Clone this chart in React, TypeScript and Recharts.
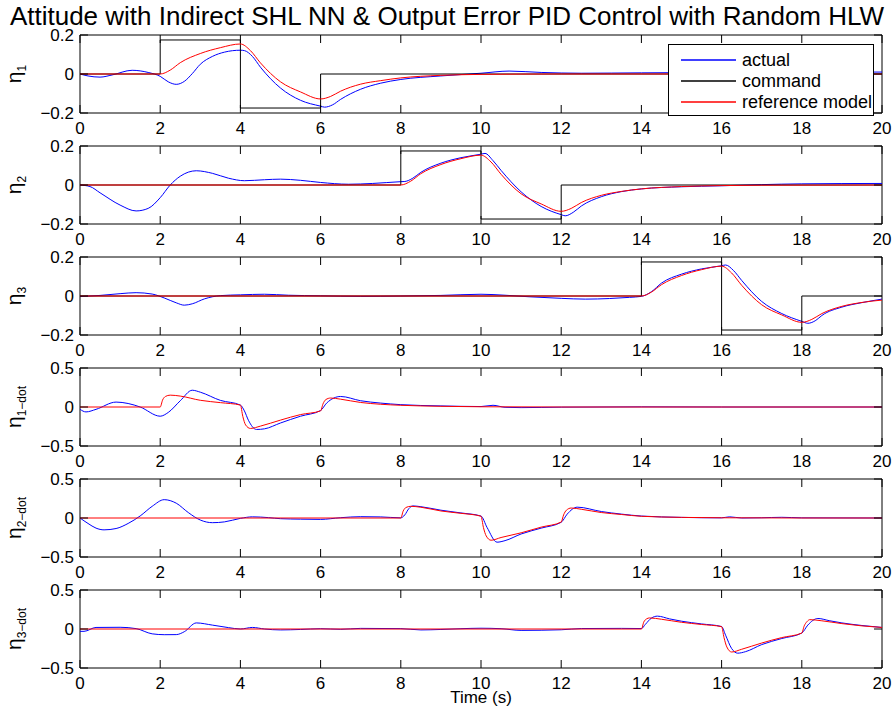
import { LineChart, Line, XAxis, YAxis, ReferenceArea } from "recharts";

type Pt = [number, number];

const timeTicks = [0, 2, 4, 6, 8, 10, 12, 14, 16, 18, 20];
const angleTicks = [-0.2, 0, 0.2];
const rateTicks = [-0.5, 0, 0.5];

// eta 1
const eta1Actual: Pt[] = [
  [0, 0], [0.2, -0.01], [0.5, -0.016], [0.8, -0.005], [1.3, 0.019], [1.7, 0.008], [2, -0.012],
  [2.2, -0.04], [2.4, -0.053], [2.6, -0.038], [2.8, 0.002], [3, 0.05], [3.3, 0.09], [3.6, 0.112],
  [4, 0.122], [4.1, 0.12], [4.3, 0.09], [4.5, 0.035], [5, -0.072], [5.5, -0.135], [6, -0.165],
  [6.1, -0.17], [6.3, -0.158], [6.5, -0.13], [7, -0.078], [7.5, -0.047], [8, -0.028], [9, -0.01],
  [10, 0.004], [10.7, 0.015], [11.5, 0.008], [12.5, 0.004], [14, 0.006], [16, 0.008], [18, 0.009], [20, 0.01],
];
const eta1Reference: Pt[] = [
  [0, 0], [2, 0], [2.25, 0.02], [2.5, 0.058], [3, 0.105], [3.5, 0.135], [4, 0.154], [4.25, 0.12],
  [4.5, 0.057], [5, -0.04], [5.5, -0.092], [6, -0.128], [6.25, -0.115], [6.5, -0.088], [7, -0.052],
  [7.5, -0.034], [8, -0.02], [9, -0.007], [10, -0.002], [12, 0], [20, 0],
];
const eta1Command: Pt[] = [
  [0, 0], [2, 0], [2, 0.1745], [4, 0.1745], [4, -0.1745], [6, -0.1745], [6, 0], [20, 0],
];

// eta 2
const eta2Actual: Pt[] = [
  [0, 0], [0.25, -0.008], [0.5, -0.04], [1, -0.103], [1.4, -0.133], [1.7, -0.12], [2, -0.065],
  [2.25, 0], [2.5, 0.045], [2.9, 0.073], [3.3, 0.06], [3.7, 0.035], [4.1, 0.022], [4.6, 0.027],
  [5, 0.03], [5.5, 0.024], [6, 0.013], [6.7, 0.004], [7.3, 0.008], [8, 0.017], [8.1, 0.018],
  [8.3, 0.035], [8.5, 0.065], [9, 0.112], [9.5, 0.14], [10, 0.158], [10.1, 0.162], [10.3, 0.125],
  [10.5, 0.075], [11, -0.035], [11.5, -0.11], [12, -0.152], [12.1, -0.158], [12.3, -0.14],
  [12.5, -0.108], [13, -0.06], [13.5, -0.034], [14, -0.02], [15, -0.009], [16, -0.004],
  [17, 0.002], [18, 0.006], [20, 0.008],
];
const eta2Reference: Pt[] = [
  [0, 0], [8, 0], [8.25, 0.02], [8.5, 0.058], [9, 0.105], [9.5, 0.135], [10, 0.153], [10.25, 0.118],
  [10.5, 0.055], [11, -0.045], [11.5, -0.097], [12, -0.135], [12.25, -0.12], [12.5, -0.09],
  [13, -0.053], [13.5, -0.033], [14, -0.02], [15, -0.008], [16, -0.003], [17, -0.001], [20, 0],
];
const eta2Command: Pt[] = [
  [0, 0], [8, 0], [8, 0.1745], [10, 0.1745], [10, -0.1745], [12, -0.1745], [12, 0], [20, 0],
];

// eta 3
const eta3Actual: Pt[] = [
  [0, -0.003], [0.5, 0.003], [1, 0.012], [1.4, 0.017], [1.8, 0.01], [2.1, -0.01], [2.4, -0.035],
  [2.6, -0.047], [2.8, -0.04], [3.1, -0.015], [3.5, 0.002], [4, 0.006], [4.6, 0.009], [5.2, 0.004],
  [6, 0.001], [7, -0.002], [8, 0], [9, 0.003], [10, 0.009], [10.6, 0.004], [11.2, -0.004],
  [12, -0.012], [12.6, -0.016], [13.2, -0.013], [13.7, -0.007], [14, -0.002], [14.25, 0.022],
  [14.5, 0.066], [15, 0.112], [15.5, 0.139], [16, 0.155], [16.1, 0.159], [16.3, 0.13], [16.5, 0.08],
  [17, -0.028], [17.5, -0.09], [18, -0.13], [18.15, -0.14], [18.35, -0.125], [18.5, -0.1],
  [19, -0.057], [19.5, -0.034], [20, -0.016],
];
const eta3Reference: Pt[] = [
  [0, 0], [14, 0], [14.25, 0.02], [14.5, 0.058], [15, 0.105], [15.5, 0.135], [16, 0.153],
  [16.25, 0.118], [16.5, 0.055], [17, -0.045], [17.5, -0.097], [18, -0.135], [18.25, -0.12],
  [18.5, -0.09], [19, -0.053], [19.5, -0.033], [20, -0.021],
];
const eta3Command: Pt[] = [
  [0, 0], [14, 0], [14, 0.1745], [16, 0.1745], [16, -0.1745], [18, -0.1745], [18, 0], [20, 0],
];

// eta 1 dot
const eta1DotActual: Pt[] = [
  [0, -0.03], [0.15, -0.063], [0.4, -0.03], [0.9, 0.063], [1.2, 0.045], [1.5, 0], [2, -0.118],
  [2.2, -0.07], [2.5, 0.08], [2.8, 0.215], [3, 0.19], [3.5, 0.085], [4, 0.025], [4.1, -0.05],
  [4.2, -0.17], [4.4, -0.288], [4.6, -0.28], [5, -0.205], [5.5, -0.118], [6, -0.045], [6.15, 0.05],
  [6.5, 0.135], [7, 0.08], [7.5, 0.05], [8, 0.03], [9, 0.014], [10, 0.006], [10.3, 0.022],
  [10.6, -0.004], [11, -0.008], [12, -0.002], [14, 0.002], [16, 0], [20, 0],
];
const eta1DotReference: Pt[] = [
  [0, 0], [2, 0], [2.06, 0.09], [2.13, 0.135], [2.25, 0.152], [2.5, 0.14], [3, 0.086], [3.5, 0.056],
  [4, 0.025], [4.06, -0.12], [4.13, -0.23], [4.25, -0.275], [4.5, -0.245], [5, -0.168], [5.5, -0.097],
  [6, -0.05], [6.06, 0.04], [6.13, 0.095], [6.25, 0.115], [6.5, 0.1], [7, 0.058], [7.5, 0.035],
  [8, 0.022], [9, 0.009], [10, 0.003], [12, 0], [20, 0],
];

// eta 2 dot
const eta2DotActual: Pt[] = [
  [0, 0], [0.2, -0.07], [0.4, -0.13], [0.6, -0.152], [0.9, -0.135], [1.2, -0.07], [1.5, 0.026],
  [1.8, 0.15], [2.1, 0.235], [2.4, 0.19], [2.7, 0.07], [3, -0.026], [3.3, -0.06], [3.6, -0.05],
  [4, -0.005], [4.3, 0.015], [4.7, 0.005], [5, -0.009], [5.5, -0.015], [6, -0.018], [6.5, 0.004],
  [7, 0.017], [7.5, 0.014], [8, 0.002], [8.1, 0.04], [8.2, 0.12], [8.3, 0.155], [8.5, 0.145],
  [9, 0.1], [9.5, 0.065], [10, 0.025], [10.15, -0.12], [10.4, -0.31], [10.6, -0.29], [11, -0.205],
  [11.5, -0.13], [12, -0.055], [12.15, 0.05], [12.4, 0.139], [13, 0.083], [13.5, 0.05], [14, 0.025],
  [15, 0.008], [16, 0.002], [16.2, 0.015], [16.5, 0], [17, 0.003], [17.5, 0.009], [18, 0.002], [20, 0],
];
const eta2DotReference: Pt[] = [
  [0, 0], [8, 0], [8.06, 0.09], [8.13, 0.135], [8.25, 0.15], [8.5, 0.138], [9, 0.09], [9.5, 0.06],
  [10, 0.023], [10.06, -0.12], [10.13, -0.23], [10.25, -0.285], [10.5, -0.25], [11, -0.19],
  [11.5, -0.117], [12, -0.052], [12.06, 0.04], [12.13, 0.1], [12.25, 0.128], [12.5, 0.112],
  [13, 0.07], [13.5, 0.045], [14, 0.022], [15, 0.008], [16, 0.003], [18, 0], [20, 0],
];

// eta 3 dot
const eta3DotActual: Pt[] = [
  [0, -0.03], [0.1, -0.03], [0.4, 0.02], [1, 0.022], [1.4, 0.005], [1.8, -0.062], [2.1, -0.073],
  [2.4, -0.072], [2.6, -0.035], [2.9, 0.078], [3.3, 0.05], [3.7, 0.018], [4, 0], [4.3, 0.02],
  [4.6, 0], [5, -0.012], [5.5, -0.006], [6, 0.004], [6.5, -0.004], [7, 0.008], [8, 0.005],
  [8.5, -0.012], [9, -0.006], [9.5, 0.004], [10, 0.01], [10.5, 0.004], [11, -0.018], [12, -0.01],
  [12.5, 0.006], [13.5, 0.008], [14, 0.006], [14.1, 0.06], [14.25, 0.14], [14.4, 0.165],
  [14.7, 0.13], [15, 0.1], [15.5, 0.065], [16, 0.032], [16.1, -0.08], [16.25, -0.25], [16.4, -0.31],
  [16.6, -0.29], [17, -0.2], [17.5, -0.122], [18, -0.052], [18.15, 0.05], [18.4, 0.135],
  [18.7, 0.105], [19, 0.078], [19.5, 0.045], [20, 0.02],
];
const eta3DotReference: Pt[] = [
  [0, 0], [14, 0], [14.06, 0.09], [14.13, 0.13], [14.2, 0.142], [14.5, 0.125], [15, 0.086],
  [15.5, 0.058], [16, 0.03], [16.06, -0.11], [16.13, -0.23], [16.25, -0.295], [16.5, -0.26],
  [17, -0.18], [17.5, -0.11], [18, -0.052], [18.06, 0.04], [18.13, 0.095], [18.2, 0.12],
  [18.5, 0.105], [19, 0.069], [19.5, 0.04], [20, 0.02],
];

const panels = [
  { sub: "1", actual: eta1Actual, reference: eta1Reference, command: eta1Command, ticks: angleTicks },
  { sub: "2", actual: eta2Actual, reference: eta2Reference, command: eta2Command, ticks: angleTicks },
  { sub: "3", actual: eta3Actual, reference: eta3Reference, command: eta3Command, ticks: angleTicks },
  { sub: "1\u2212dot", actual: eta1DotActual, reference: eta1DotReference, command: null, ticks: rateTicks },
  { sub: "2\u2212dot", actual: eta2DotActual, reference: eta2DotReference, command: null, ticks: rateTicks },
  { sub: "3\u2212dot", actual: eta3DotActual, reference: eta3DotReference, command: null, ticks: rateTicks },
];

const BLUE = "#0000ff";
const BLACK = "#000000";
const RED = "#ff0000";

const legendItems = [
  { name: "actual", color: BLUE },
  { name: "command", color: BLACK },
  { name: "reference model", color: RED },
];

const FONT = '"Liberation Sans", Arial, Helvetica, sans-serif';
const W = 894;
const PLOT_LEFT = 80;
const PLOT_W = 802;
const PLOT_H = 78;
const PAD_TOP = 12;
const X_AXIS_H = 28;
const plotTops = [35, 146, 257, 368, 479, 590];

const toPoints = (arr: Pt[]) => arr.map(([t, v]) => ({ t, v }));

function fmt(v: number) {
  if (v === 0) return "0";
  return (v < 0 ? "\u2212" : "") + Math.abs(v);
}

function XTick(props: any) {
  const { x, y, payload } = props;
  return (
    <g>
      <line x1={x} y1={y} x2={x} y2={y - 8} stroke="#000" strokeWidth={1} />
      <line x1={x} y1={y - PLOT_H} x2={x} y2={y - PLOT_H + 8} stroke="#000" strokeWidth={1} />
      <text x={x} y={y + 21} textAnchor="middle" fontSize={17} fontFamily={FONT} fill="#000">
        {payload.value}
      </text>
    </g>
  );
}

function YTick(props: any) {
  const { x, y, payload } = props;
  return (
    <g>
      <line x1={x} y1={y} x2={x + 8} y2={y} stroke="#000" strokeWidth={1} />
      <line x1={x + PLOT_W} y1={y} x2={x + PLOT_W - 8} y2={y} stroke="#000" strokeWidth={1} />
      <text x={x - 6} y={y} dy="0.35em" textAnchor="end" fontSize={17} fontFamily={FONT} fill="#000">
        {fmt(payload.value)}
      </text>
    </g>
  );
}

function yLabel(sub: string) {
  const cx = 21;
  const cy = PAD_TOP + PLOT_H / 2;
  return () => (
    <text
      x={cx}
      y={cy}
      transform={`rotate(-90 ${cx} ${cy})`}
      textAnchor="middle"
      fontSize={21}
      fontFamily={FONT}
      fill="#000"
    >
      η<tspan fontSize={12} dy={5}>{sub}</tspan>
    </text>
  );
}

function Panel({ panel, top }: { panel: (typeof panels)[number]; top: number }) {
  const lim = panel.ticks[2];
  return (
    <div style={{ position: "absolute", left: 0, top: top - PAD_TOP }}>
      <LineChart
        width={W}
        height={PAD_TOP + PLOT_H + X_AXIS_H}
        margin={{ top: PAD_TOP, right: W - PLOT_LEFT - PLOT_W, bottom: 0, left: 0 }}
      >
        <XAxis
          type="number"
          dataKey="t"
          domain={[0, 20]}
          ticks={timeTicks}
          interval={0}
          height={X_AXIS_H}
          tickSize={0}
          tickMargin={0}
          axisLine={false}
          tickLine={false}
          tick={(p: any) => <XTick {...p} />}
          allowDataOverflow
        />
        <YAxis
          type="number"
          domain={[-lim, lim]}
          ticks={panel.ticks}
          interval={0}
          width={PLOT_LEFT}
          tickSize={0}
          tickMargin={0}
          axisLine={false}
          tickLine={false}
          tick={(p: any) => <YTick {...p} />}
          allowDataOverflow
          label={yLabel(panel.sub)}
        />
        <Line
          data={toPoints(panel.actual)}
          dataKey="v"
          type="monotone"
          stroke={BLUE}
          strokeWidth={1}
          dot={false}
          activeDot={false}
          isAnimationActive={false}
        />
        {panel.command && (
          <Line
            data={toPoints(panel.command)}
            dataKey="v"
            type="linear"
            stroke={BLACK}
            strokeWidth={1}
            dot={false}
            activeDot={false}
            isAnimationActive={false}
          />
        )}
        <Line
          data={toPoints(panel.reference)}
          dataKey="v"
          type="monotone"
          stroke={RED}
          strokeWidth={1}
          dot={false}
          activeDot={false}
          isAnimationActive={false}
        />
        <ReferenceArea
          x1={0}
          x2={20}
          y1={-lim}
          y2={lim}
          fill="none"
          fillOpacity={0}
          stroke="#000"
          strokeWidth={1}
          ifOverflow="visible"
        />
      </LineChart>
    </div>
  );
}

export default function App() {
  return (
    <div
      style={{
        position: "absolute",
        left: 0,
        top: 0,
        width: W,
        height: 719,
        background: "#fff",
        fontFamily: FONT,
        color: "#000",
        overflow: "hidden",
      }}
    >
      <div
        style={{
          position: "absolute",
          top: 1,
          left: 0,
          width: W,
          textAlign: "center",
          fontSize: 26,
          lineHeight: "30px",
          whiteSpace: "nowrap",
        }}
      >
        Attitude with Indirect SHL NN &amp; Output Error PID Control with Random HLW
      </div>
      {panels.map((p, i) => (
        <Panel key={i} panel={p} top={plotTops[i]} />
      ))}
      <svg
        width={208}
        height={74}
        style={{ position: "absolute", left: 667, top: 43, zIndex: 5 }}
      >
        <rect x={1.5} y={1.5} width={205} height={71} fill="#fff" stroke="#000" strokeWidth={1} />
        {legendItems.map((it, i) => (
          <g key={it.name}>
            <line
              x1={14}
              x2={69}
              y1={17 + i * 21}
              y2={17 + i * 21}
              stroke={it.color}
              strokeWidth={1.3}
            />
            <text x={75} y={17 + i * 21} dy="0.35em" fontSize={18} fontFamily={FONT} fill="#000">
              {it.name}
            </text>
          </g>
        ))}
      </svg>
      <div
        style={{
          position: "absolute",
          top: 688,
          left: PLOT_LEFT,
          width: PLOT_W,
          textAlign: "center",
          fontSize: 17,
          lineHeight: "20px",
        }}
      >
        Time (s)
      </div>
    </div>
  );
}
